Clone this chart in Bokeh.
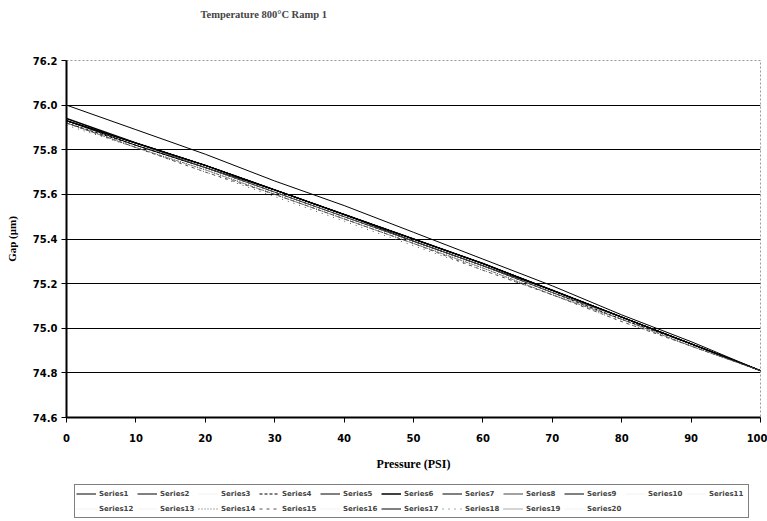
from bokeh.plotting import figure
from bokeh.models import Legend, LegendItem, FixedTicker, Range1d, NumeralTickFormatter, Title
from bokeh.layouts import column
from bokeh.embed import file_html
from bokeh.resources import INLINE

title_text = "Temperature 800\u00b0C Ramp 1"
x_label = "Pressure (PSI)"
y_label = "Gap (\u03bcm)"

pressure = [0, 10, 20, 30, 40, 50, 60, 70, 80, 90, 100]
x_ticks = [0, 10, 20, 30, 40, 50, 60, 70, 80, 90, 100]
y_ticks = [74.6, 74.8, 75.0, 75.2, 75.4, 75.6, 75.8, 76.0, 76.2]

s1 = [76.00, 75.89, 75.78, 75.66, 75.55, 75.43, 75.31, 75.19, 75.06, 74.94, 74.81]
s2 = [75.93, 75.83, 75.73, 75.62, 75.51, 75.40, 75.29, 75.17, 75.05, 74.93, 74.81]
s3 = [75.93, 75.83, 75.72, 75.62, 75.51, 75.40, 75.28, 75.17, 75.05, 74.93, 74.81]
s4 = [75.92, 75.82, 75.72, 75.61, 75.50, 75.39, 75.28, 75.16, 75.04, 74.93, 74.81]
s5 = [75.93, 75.83, 75.73, 75.62, 75.51, 75.40, 75.29, 75.17, 75.05, 74.93, 74.81]
s6 = [75.94, 75.83, 75.73, 75.62, 75.51, 75.40, 75.29, 75.17, 75.05, 74.93, 74.81]
s7 = [75.93, 75.82, 75.72, 75.62, 75.51, 75.39, 75.28, 75.17, 75.05, 74.93, 74.81]
s8 = [75.93, 75.83, 75.72, 75.61, 75.50, 75.39, 75.28, 75.16, 75.05, 74.93, 74.81]
s9 = [75.93, 75.83, 75.73, 75.62, 75.51, 75.40, 75.29, 75.17, 75.05, 74.93, 74.81]
s10 = [75.93, 75.82, 75.72, 75.61, 75.50, 75.39, 75.28, 75.16, 75.04, 74.92, 74.81]
s11 = [75.93, 75.83, 75.72, 75.62, 75.51, 75.40, 75.28, 75.17, 75.05, 74.93, 74.81]
s12 = [75.92, 75.82, 75.72, 75.61, 75.50, 75.39, 75.28, 75.16, 75.04, 74.92, 74.81]
s13 = [75.93, 75.83, 75.73, 75.62, 75.51, 75.40, 75.29, 75.17, 75.05, 74.93, 74.81]
s14 = [75.92, 75.81, 75.71, 75.60, 75.49, 75.38, 75.27, 75.15, 75.04, 74.92, 74.81]
s15 = [75.92, 75.81, 75.70, 75.60, 75.49, 75.38, 75.26, 75.15, 75.03, 74.92, 74.81]
s16 = [75.93, 75.82, 75.72, 75.61, 75.50, 75.39, 75.28, 75.16, 75.05, 74.93, 74.81]
s17 = [75.93, 75.83, 75.73, 75.62, 75.51, 75.40, 75.29, 75.17, 75.05, 74.93, 74.81]
s18 = [75.91, 75.81, 75.70, 75.59, 75.48, 75.37, 75.26, 75.15, 75.03, 74.92, 74.81]
s19 = [75.92, 75.81, 75.71, 75.60, 75.49, 75.38, 75.27, 75.15, 75.04, 74.92, 74.81]
s20 = [75.93, 75.82, 75.72, 75.61, 75.50, 75.39, 75.28, 75.16, 75.04, 74.93, 74.81]

series = [s1, s2, s3, s4, s5, s6, s7, s8, s9, s10,
          s11, s12, s13, s14, s15, s16, s17, s18, s19, s20]
names = ["Series%d" % (i + 1) for i in range(20)]

faint = "#f2f2f2"
styles = [
    ("black", "solid", 1), ("black", "solid", 1), (faint, "solid", 1), ("black", "3 2", 1),
    ("black", "solid", 1), ("black", "solid", 1.5), ("black", "solid", 1), ("#444444", "solid", 1),
    ("black", "solid", 1), (faint, "solid", 1), (faint, "solid", 1), (faint, "solid", 1),
    (faint, "solid", 1), ("#555555", "1 2", 1), ("#555555", "3 4", 1), (faint, "solid", 1),
    ("black", "solid", 1), ("#555555", "1 5", 1), ("#555555", "1 1", 1), (faint, "solid", 1),
]

W = 767
H_MAIN = 480
H_LEG = 41

p = figure(width=W, height=H_MAIN, output_backend="svg", toolbar_location=None,
           x_range=Range1d(0, 100), y_range=Range1d(74.6, 76.2),
           min_border_left=66, min_border_right=7, min_border_top=60, min_border_bottom=63,
           background_fill_color="white", border_fill_color="white")

# spacer between frame and title (stacked nearest to the frame)
p.add_layout(Title(text=" ", text_font_size="35px", standoff=0), "above")

p.title.text = title_text
p.title.align = "left"
p.title.text_font = "Liberation Serif"
p.title.text_font_style = "bold"
p.title.text_font_size = "10.5px"
p.title.standoff = 0
p.title.offset = 134

p.outline_line_color = "#999999"
p.outline_line_dash = "2 2"

p.xgrid.grid_line_color = None
p.ygrid.ticker = FixedTicker(ticks=y_ticks[1:-1])
p.ygrid.grid_line_color = "black"
p.ygrid.grid_line_width = 1

for ax in (p.xaxis, p.yaxis):
    ax.axis_line_width = 2
    ax.axis_line_color = "black"
    ax.major_tick_out = 5
    ax.major_tick_in = 0
    ax.minor_tick_line_color = None
    ax.major_tick_line_color = "black"
    ax.major_label_text_font = "DejaVu Sans"
    ax.major_label_text_font_style = "bold"
    ax.major_label_text_font_size = "10px"
    ax.major_label_text_color = "black"
    ax.axis_label_text_font = "Liberation Serif"
    ax.axis_label_text_font_style = "bold"
    ax.axis_label_text_color = "black"

p.xaxis.ticker = FixedTicker(ticks=x_ticks)
p.yaxis.ticker = FixedTicker(ticks=y_ticks)
p.yaxis.formatter = NumeralTickFormatter(format="0.0")
p.xaxis.axis_label = x_label
p.yaxis.axis_label = y_label
p.xaxis.axis_label_text_font_size = "12px"
p.yaxis.axis_label_text_font_size = "11px"
p.xaxis.major_label_standoff = 11
p.xaxis.axis_label_standoff = 12
p.yaxis.major_label_standoff = 4
p.yaxis.axis_label_standoff = 12

order = [i for i in range(20) if styles[i][0] == faint] + [i for i in range(20) if styles[i][0] != faint]
for i in order:
    c, d, w = styles[i]
    p.line(pressure, series[i], line_color=c, line_dash=d, line_width=w)

# legend strip below the chart (same series, same styles; data lies outside its view)
pl = figure(width=W, height=H_LEG, output_backend="svg", toolbar_location=None,
            x_range=Range1d(-1000, -999), y_range=Range1d(0, 1),
            x_axis_type=None, y_axis_type=None, title_location=None,
            min_border_left=0, min_border_right=0, min_border_top=0, min_border_bottom=0,
            background_fill_color="white", border_fill_color="white")
pl.outline_line_color = None
pl.grid.grid_line_color = None

leg_renderers = []
for i in range(20):
    c, d, w = styles[i]
    leg_renderers.append(pl.line(pressure, series[i], line_color=c, line_dash=d, line_width=w))

items = [LegendItem(label=names[i], renderers=[leg_renderers[i]]) for i in range(20)]
legend = Legend(items=items, location=(8, 3), orientation="horizontal", ncols=11,
                glyph_width=20, glyph_height=15, label_height=15, label_width=38,
                label_standoff=3, spacing=0, padding=1, margin=0,
                label_text_font="DejaVu Sans", label_text_font_style="bold",
                label_text_font_size="7px", border_line_color="black", border_line_width=1,
                background_fill_color="white")
pl.add_layout(legend)

layout = column(p, pl, spacing=0)
open("out.html", "w").write(file_html(layout, INLINE))
